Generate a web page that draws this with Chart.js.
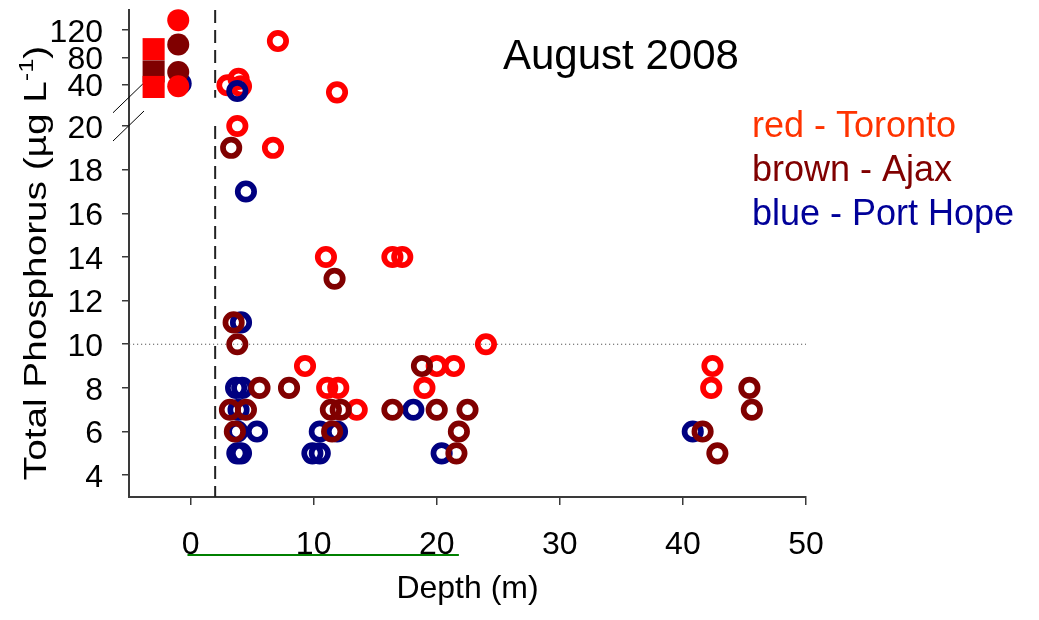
<!DOCTYPE html>
<html>
<head>
<meta charset="utf-8">
<script src="https://cdn.jsdelivr.net/npm/chart.js@4/dist/chart.umd.min.js"></script>
<style>
  html, body { margin: 0; padding: 0; background: #fff; }
  #wrap { width: 1039px; height: 620px; position: relative; }
</style>
</head>
<body>
<div id="wrap"><canvas id="c" width="1039" height="620"></canvas></div>
<script>
const FONT = "'Liberation Sans', Arial, Helvetica, sans-serif";

// Depth (m) and total phosphorus (µg/L) per station, August 2008
const torontoDepth = [7.1, 3.0, 3.9, 4.1, 11.9, 3.8, 6.7, 11.0, 16.4, 17.2, 24.0, 9.3, 20.0, 21.4, 11.1, 12.0, 19.0, 13.5, 42.4, 42.3];
const torontoTP    = [104, 38.5, 48, 37, 28, 20, 19, 14, 14, 14, 10, 9, 9, 9, 8, 8, 8, 7, 9, 8];

const ajaxDepth = [3.3, 11.7, 3.5, 3.8, 18.8, 5.6, 8.0, 3.2, 4.5, 11.4, 12.2, 16.4, 20.0, 22.5, 3.6, 11.5, 21.8, 21.6, 45.4, 45.6, 41.6, 42.8];
const ajaxTP    = [19, 13, 11, 10, 9, 8, 8, 7, 7, 7, 7, 7, 7, 7, 6, 6, 6, 5, 8, 7, 6, 5];

const portHopeDepth = [3.8, 4.5, 4.1, 3.7, 4.2, 3.9, 3.8, 5.4, 3.8, 4.1, 10.5, 11.9, 9.9, 10.5, 18.1, 20.4, 40.8];
const portHopeTP    = [30, 17, 11, 8, 8, 7, 6, 6, 5, 5, 6, 6, 5, 5, 7, 5, 6];

// Filled summary markers drawn left of the depth origin
const squareDepth = -3.0;
const squareTorontoTopTP = [92];
const squareAjaxTP = [59];
const squareTorontoBottomTP = [36];
const dotDepth = -1.0;
const dotTorontoTP = [135, 37];
const dotAjaxTP = [99, 58];
const dotPortHopeDepth = -0.8;
const dotPortHopeTP = [41];

// Axis ticks and the broken y-axis ranges
const depthTicks = [0, 10, 20, 30, 40, 50];
const lowTicks = [4, 6, 8, 10, 12, 14, 16, 18, 20];
const highTicks = [40, 80, 120];
const lowRange = [3, 20];
const highRange = [20, 150];
const axisBreak = 22;      // values above this go to the upper panel
const guideDepth = 2;      // vertical dashed guide
const guideTP = 10;        // horizontal dotted guide
const depthRange = [-5, 50];

const RED = '#ff0000', BROWN = '#800000', BLUE = '#000080';
const AXIS = '#3a3a3a';

function pts(xs, ys, upper) {
  const out = [];
  xs.forEach((x, i) => {
    const y = ys[i];
    if ((y > axisBreak) === upper) out.push({ x, y });
  });
  return out;
}

function openSet(xs, ys, color, order) {
  const base = {
    backgroundColor: 'rgba(0,0,0,0)', borderColor: color,
    pointRadius: 8.2, borderWidth: 5.7, pointStyle: 'circle', order, clip: false
  };
  return [
    Object.assign({ data: pts(xs, ys, false), yAxisID: 'yLow' }, base),
    Object.assign({ data: pts(xs, ys, true), yAxisID: 'yHigh' }, base)
  ];
}

function filledSet(x, ys, color, style, radius, order) {
  return {
    data: ys.map(y => ({ x, y })), yAxisID: 'yHigh',
    backgroundColor: color, borderColor: color, borderWidth: 0,
    pointStyle: style, pointRadius: radius, order, clip: false
  };
}

function guideLine(data, axis, dash, color, width) {
  return {
    data, yAxisID: axis, showLine: true, pointRadius: 0,
    borderColor: color, borderWidth: width, borderDash: dash,
    order: 20, clip: false, fill: false
  };
}

const datasets = [
  ...openSet(ajaxDepth, ajaxTP, BROWN, 1),
  ...openSet(portHopeDepth, portHopeTP, BLUE, 2),
  ...openSet(torontoDepth, torontoTP, RED, 3),
  filledSet(squareDepth, squareTorontoBottomTP, RED, 'rect', 15.6, 4),
  filledSet(squareDepth, squareAjaxTP, BROWN, 'rect', 15.6, 5),
  filledSet(squareDepth, squareTorontoTopTP, RED, 'rect', 15.6, 6),
  filledSet(dotDepth, dotTorontoTP, RED, 'circle', 11, 4),
  filledSet(dotDepth, dotAjaxTP, BROWN, 'circle', 11, 5),
  filledSet(dotPortHopeDepth, dotPortHopeTP, BLUE, 'circle', 11, 6),
  guideLine([{ x: guideDepth, y: highRange[1] }, { x: guideDepth, y: highRange[0] }], 'yHigh', [13, 7], '#222', 2),
  guideLine([{ x: guideDepth, y: lowRange[1] }, { x: guideDepth, y: lowRange[0] }], 'yLow', [13, 7], '#222', 2),
  guideLine([{ x: depthRange[0], y: guideTP }, { x: depthRange[1], y: guideTP }], 'yLow', [1.2, 2.8], '#555', 1)
];

const Y_WIDTH = 129;

function yAxis(range, ticks, weight, showTicks) {
  return {
    type: 'linear', position: 'left', stack: 'tp', stackWeight: weight,
    min: range[0], max: range[1],
    afterBuildTicks: s => { s.ticks = ticks.map(v => ({ value: v })); },
    afterFit: s => { s.width = Y_WIDTH; s.paddingTop = 0; s.paddingBottom = 0; },
    grid: { display: showTicks, drawOnChartArea: false, drawTicks: showTicks, tickLength: 7, color: AXIS, lineWidth: 1.5 },
    border: { display: true, color: AXIS, width: 2 },
    ticks: {
      display: showTicks, autoSkip: false, color: '#000', padding: 19, labelOffset: 3,
      font: { family: FONT, size: 32 },
      callback: v => String(v)
    }
  };
}

// Axis break slashes, titles and the colour key
const decor = {
  id: 'decor',
  beforeDatasetsDraw(chart) {
    const ctx = chart.ctx;
    const hi = chart.scales.yHigh, lo = chart.scales.yLow;
    const ax = chart.chartArea.left;
    ctx.save();
    ctx.strokeStyle = '#000';
    ctx.lineWidth = 1;
    [hi.bottom, lo.top].forEach(yb => {
      ctx.beginPath();
      ctx.moveTo(ax - 16, yb + 15);
      ctx.lineTo(ax + 15, yb - 15);
      ctx.stroke();
    });
    ctx.restore();
  },
  afterDraw(chart) {
    const ctx = chart.ctx;
    const xs = chart.scales.x;
    ctx.save();

    // green underline beneath the depth labels
    ctx.strokeStyle = '#008000';
    ctx.lineWidth = 2;
    ctx.beginPath();
    ctx.moveTo(xs.getPixelForValue(-0.25), xs.top + 58);
    ctx.lineTo(xs.getPixelForValue(21.8), xs.top + 58);
    ctx.stroke();

    // chart title
    ctx.fillStyle = '#000';
    ctx.font = `42px ${FONT}`;
    ctx.textAlign = 'left';
    ctx.textBaseline = 'alphabetic';
    ctx.fillText('August 2008', 503, 69);

    // colour key
    ctx.font = `36px ${FONT}`;
    const key = [['red - Toronto', '#ff3300'], ['brown - Ajax', '#800000'], ['blue - Port Hope', '#000099']];
    key.forEach((k, i) => {
      ctx.fillStyle = k[1];
      ctx.fillText(k[0], 752, 137 + i * 44);
    });

    // y-axis title with superscript unit
    ctx.fillStyle = '#000';
    ctx.translate(46, 263);
    ctx.rotate(-Math.PI / 2);
    ctx.scale(1.21, 1);
    const main = 'Total Phosphorus (µg L';
    const sup = '-1';
    const tail = ')';
    ctx.font = `32px ${FONT}`;
    const wMain = ctx.measureText(main).width;
    const wTail = ctx.measureText(tail).width;
    ctx.font = `21px ${FONT}`;
    const wSup = ctx.measureText(sup).width;
    let x0 = -(wMain + wSup + wTail) / 2;
    ctx.font = `32px ${FONT}`;
    ctx.fillText(main, x0, 0);
    ctx.font = `21px ${FONT}`;
    ctx.fillText(sup, x0 + wMain, -13);
    ctx.font = `32px ${FONT}`;
    ctx.fillText(tail, x0 + wMain + wSup, 0);
    ctx.restore();
  }
};

new Chart(document.getElementById('c'), {
  type: 'scatter',
  data: { datasets },
  options: {
    responsive: false,
    animation: false,
    events: [],
    layout: { autoPadding: false, padding: { top: 10, right: 233, bottom: 0, left: 0 } },
    plugins: { legend: { display: false }, tooltip: { enabled: false }, title: { display: false } },
    scales: {
      x: {
        type: 'linear', position: 'bottom',
        min: depthRange[0], max: depthRange[1],
        afterBuildTicks: s => { s.ticks = depthTicks.map(v => ({ value: v })); },
        afterFit: s => { s.height = 123; s.paddingLeft = 0; s.paddingRight = 0; },
        grid: { display: true, drawOnChartArea: false, drawTicks: true, tickLength: 8, color: AXIS, lineWidth: 1.5 },
        border: { display: true, color: AXIS, width: 2 },
        ticks: { color: '#000', padding: 21, maxRotation: 0, autoSkip: false, font: { family: FONT, size: 32 }, callback: v => String(v) },
        title: { display: true, text: 'Depth (m)', color: '#000', font: { family: FONT, size: 32 }, padding: { top: 0, bottom: 12 } }
      },
      yLow: yAxis(lowRange, lowTicks, 371, true),
      yGap: yAxis([0, 1], [], 28.25, false),
      yHigh: yAxis(highRange, highTicks, 87.75, true)
    }
  },
  plugins: [decor]
});
</script>
</body>
</html>
